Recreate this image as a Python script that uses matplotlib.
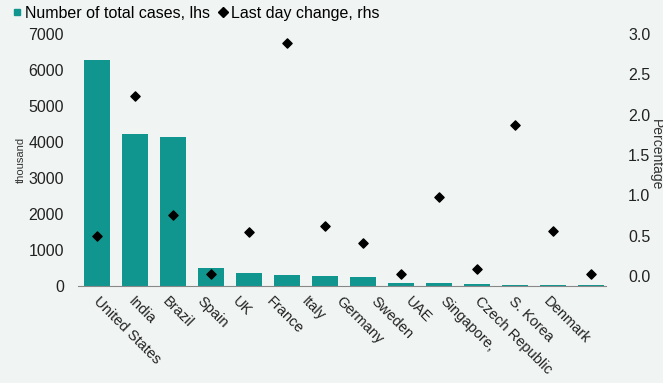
import matplotlib.pyplot as plt
from matplotlib.lines import Line2D

countries = ["United States", "India", "Brazil", "Spain", "UK", "France", "Italy",
             "Germany", "Sweden", "UAE", "Singapore,", "Czech Republic", "S. Korea", "Denmark"]
total_cases = [6280, 4220, 4140, 500, 360, 305, 278, 250, 85, 78, 58, 30, 20, 18]
day_change = [0.50, 2.23, 0.75, 0.02, 0.54, 2.89, 0.62, 0.41, 0.02, 0.98, 0.08, 1.87, 0.56, 0.02]

bg = "#f0f4f3"
teal = "#11968f"
plt.rcParams['font.family'] = ['Liberation Sans', 'DejaVu Sans']

fig = plt.figure(figsize=(6.63, 3.83), dpi=100, facecolor=bg)
ax = fig.add_axes([78 / 663, 1 - 286 / 383, (606 - 78) / 663, (286 - 34) / 383])
ax.set_facecolor(bg)
x = list(range(len(countries)))
ax.bar(x, total_cases, width=0.68, color=teal, zorder=2)
ax.set_xlim(-0.5, 13.4)
ax.set_ylim(0, 7000)
ax.set_yticks(range(0, 7001, 1000))
# category labels sit on a slightly tighter spacing than the bars, as in the original
ax.set_xticks([0.1 + 0.911 * i for i in x])
ax.set_xticklabels(countries, rotation=-45, ha="left", rotation_mode="anchor", fontsize=10.5)
ax.tick_params(axis="both", length=0, labelsize=11.5, colors="#222222")
ax.tick_params(axis="x", pad=6, labelsize=10.5)
ax.tick_params(axis="y", pad=10)
for s in ["top", "left", "right"]:
    ax.spines[s].set_visible(False)
ax.spines["bottom"].set_color("#888888")
ax.set_ylabel("thousand", fontsize=8, color="#333333", labelpad=2)

ax2 = ax.twinx()
ax2.scatter(x, day_change, marker="D", s=22, color="black", zorder=3)
ax2.set_ylim(-0.125, 3.0)
ax2.set_yticks([0.0, 0.5, 1.0, 1.5, 2.0, 2.5, 3.0])
ax2.set_yticklabels(["0.0", "0.5", "1.0", "1.5", "2.0", "2.5", "3.0"])
ax2.tick_params(axis="y", length=0, labelsize=11.5, colors="#222222", pad=16)
for s in ["top", "left", "right", "bottom"]:
    ax2.spines[s].set_visible(False)
fig.text(649 / 663, 1 - 155 / 383, "Percentage", rotation=-90, ha="left", va="center",
         fontsize=10, color="#333333")

handles = [Line2D([], [], marker="s", linestyle="", color=teal, markersize=5),
           Line2D([], [], marker="D", linestyle="", color="black", markersize=5)]
fig.legend(handles, ["Number of total cases, lhs", "Last day change, rhs"],
           loc="upper left", bbox_to_anchor=(-0.005, 1.022), ncol=2, frameon=False,
           fontsize=11.5, handletextpad=0.1, columnspacing=0.4, handlelength=0.8)

fig.savefig("out.png", dpi=100, facecolor=bg)
